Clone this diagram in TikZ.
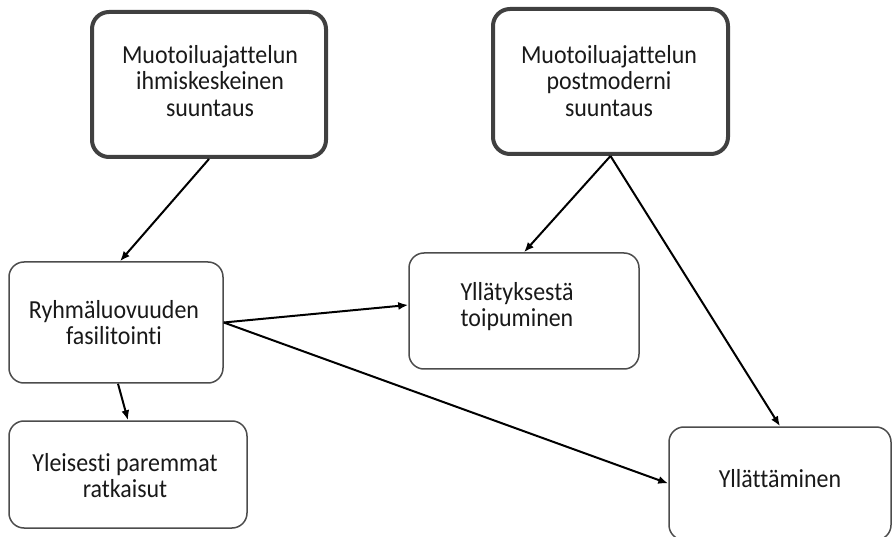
\documentclass[tikz,border=0pt]{standalone}
\usepackage{fontspec}
\setmainfont{Carlito}[Ligatures={NoCommon}, FakeStretch=0.92]
\usetikzlibrary{arrows.meta}
\begin{document}
\begin{tikzpicture}[x=1pt,y=-1pt,
  boxtext/.style={align=center, inner sep=0pt, font=\fontsize{26}{26.5}\selectfont, text=black!90},
  thickbox/.style={draw=black!75, line width=4pt, rounded corners=17pt, inner sep=0pt},
  thinbox/.style={draw=black!70, line width=1.5pt, rounded corners=15pt, inner sep=0pt},
  arr/.style={-{Latex[length=10pt,width=8pt]}, line width=2pt, draw=black}]
\useasboundingbox (0,0) rectangle (892,537);
\fill[white] (0,0) rectangle (892,537);
\clip (0,0) rectangle (892,537);
\node[thickbox, minimum width=234pt, minimum height=145pt] (b1) at (209,84.5) {};
\node[boxtext] (t1) at (210,81) {Muotoiluajattelun\\ihmiskeskeinen\\suuntaus};
\node[thickbox, minimum width=235pt, minimum height=145pt] (b2) at (610.5,81.5) {};
\node[boxtext] (t2) at (609,81) {Muotoiluajattelun\\postmoderni\\suuntaus};
\node[thinbox, minimum width=214pt, minimum height=121pt] (b3) at (116,322.5) {};
\node[boxtext] (t3) at (114,322.5) {Ryhmäluovuuden\\fasilitointi};
\node[thinbox, minimum width=230pt, minimum height=116pt] (b4) at (524,311) {};
\node[boxtext] (t4) at (517,306.5) {Yllätyksestä\\toipuminen};
\node[thinbox, minimum width=238pt, minimum height=107pt] (b5) at (128,474.5) {};
\node[boxtext] (t5) at (125,475.5) {Yleisesti paremmat\\ratkaisut};
\node[thinbox, minimum width=222pt, minimum height=113pt] (b6) at (780,483.5) {};
\node[boxtext] (t6) at (780,479) {Yllättäminen};
\draw[arr] (b1.south) -- ([xshift=4pt]b3.north);
\draw[arr] (b2.south) -- (b4.north);
\draw[arr] (b2.south) -- (b6.north);
\draw[arr] (b3.east) -- ([yshift=6pt]b4.west);
\draw[arr] (b3.east) -- (b6.west);
\draw[arr] ([xshift=2pt]b3.south) -- (b5.north);
\end{tikzpicture}
\end{document}
